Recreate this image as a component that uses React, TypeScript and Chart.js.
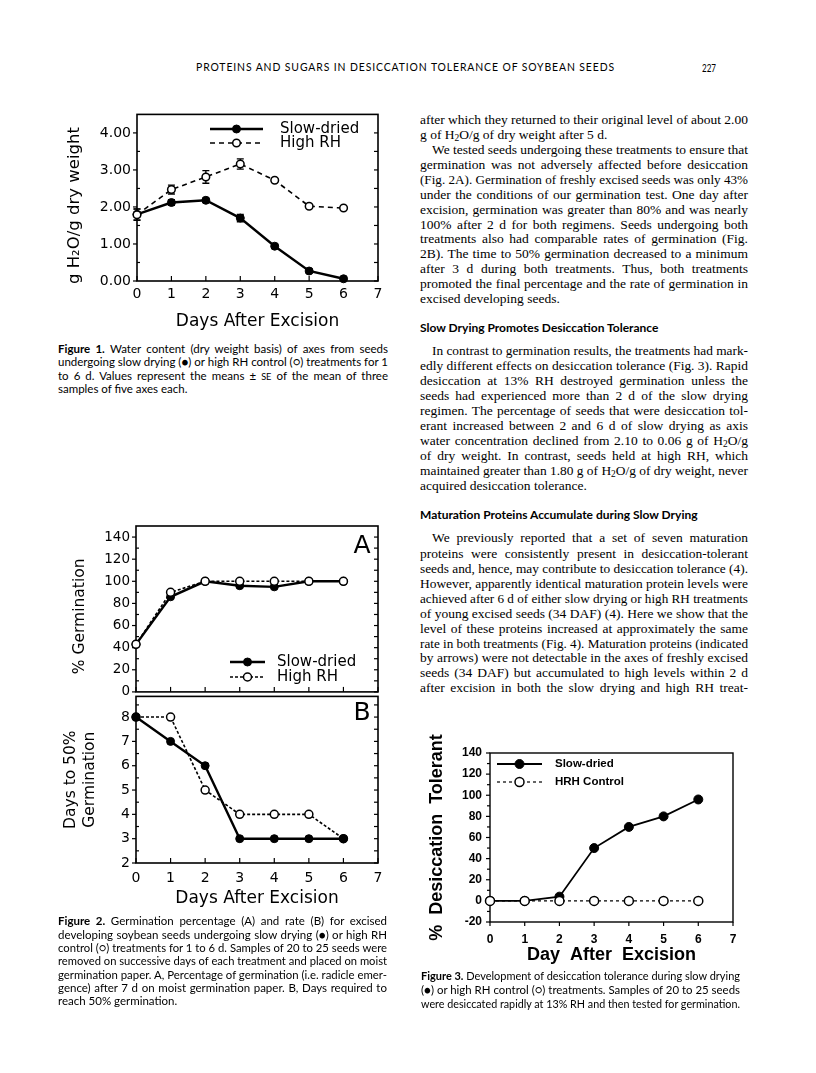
import React, { useEffect, useLayoutEffect, useRef } from "react";
import { Chart, registerables } from "chart.js";
Chart.register(...registerables);

// ---------------- DATA ----------------
const DAYS = [0, 1, 2, 3, 4, 5, 6];
const DAY_TICKS = [0, 1, 2, 3, 4, 5, 6, 7];

// Figure 1: water content (g H2O / g dry weight)
const FIG1_SLOW = [1.8, 2.12, 2.18, 1.7, 0.94, 0.27, 0.06];
const FIG1_SLOW_SE = [0.15, 0.08, 0.05, 0.1, 0.05, 0.04, 0.02];
const FIG1_HIGH = [1.79, 2.47, 2.81, 3.16, 2.72, 2.02, 1.97];
const FIG1_HIGH_SE = [0.15, 0.12, 0.17, 0.14, 0.04, 0.04, 0.03];
const FIG1_Y_TICKS = [0, 1, 2, 3, 4];
const FIG1_Y_MINOR = [0.5, 1.5, 2.5, 3.5];

// Figure 2A: % germination
const FIG2A_SLOW = [43, 86, 100, 96, 95, 100, 100];
const FIG2A_HIGH = [43, 90, 100, 100, 100, 100, 100];
const FIG2A_Y_TICKS = [0, 20, 40, 60, 80, 100, 120, 140];
const FIG2A_Y_MINOR = [10, 30, 50, 70, 90, 110, 130];

// Figure 2B: days to 50% germination
const FIG2B_SLOW = [8, 7, 6, 3, 3, 3, 3];
const FIG2B_HIGH = [8, 8, 5, 4, 4, 4, 3];
const FIG2B_Y_TICKS = [2, 3, 4, 5, 6, 7, 8];
const FIG2B_Y_MINOR = [2.5, 3.5, 4.5, 5.5, 6.5, 7.5, 8.5];

// Figure 3: % desiccation tolerant
const FIG3_SLOW = [0, 0, 4, 50, 70, 80, 96];
const FIG3_HRH = [0, 0, 0, 0, 0, 0, 0];
const FIG3_Y_TICKS = [-20, 0, 20, 40, 60, 80, 100, 120, 140];
const FIG3_Y_MINOR = [-10, 10, 30, 50, 70, 90, 110, 130];

// ---------------- STYLE ----------------
const GENEVA = '"DejaVu Sans", Verdana, sans-serif';
const HELV = '"Liberation Sans", Arial, sans-serif';
const SERIF = '"Liberation Serif", "Times New Roman", serif';
const OPTIMA = 'Lato, "Open Sans", sans-serif';

const pts = (vals: number[]) => DAYS.map((d, i) => ({ x: d, y: vals[i] }));

// ---------------- PLUGINS ----------------
type TickSet = { values: number[]; len: number; dir: "in" | "out" };
type FrameCfg = { lineWidth: number; tickWidth: number; left?: TickSet[]; right?: TickSet[]; bottom?: TickSet[]; top?: TickSet[] };

function framePlugin(cfg: FrameCfg) {
  return {
    id: "frame",
    beforeDatasetsDraw(chart: any) {
      const { ctx, chartArea: a, scales } = chart;
      const xs = scales.x, ys = scales.y;
      ctx.save();
      ctx.strokeStyle = "#000";
      ctx.lineWidth = cfg.lineWidth;
      ctx.strokeRect(a.left, a.top, a.right - a.left, a.bottom - a.top);
      ctx.lineWidth = cfg.tickWidth;
      const seg = (x1: number, y1: number, x2: number, y2: number) => {
        ctx.beginPath(); ctx.moveTo(x1, y1); ctx.lineTo(x2, y2); ctx.stroke();
      };
      (cfg.left || []).forEach(t => t.values.forEach(v => {
        const y = ys.getPixelForValue(v);
        seg(a.left, y, a.left + (t.dir === "in" ? t.len : -t.len), y);
      }));
      (cfg.right || []).forEach(t => t.values.forEach(v => {
        const y = ys.getPixelForValue(v);
        seg(a.right, y, a.right + (t.dir === "in" ? -t.len : t.len), y);
      }));
      (cfg.bottom || []).forEach(t => t.values.forEach(v => {
        const x = xs.getPixelForValue(v);
        seg(x, a.bottom, x, a.bottom + (t.dir === "in" ? -t.len : t.len));
      }));
      (cfg.top || []).forEach(t => t.values.forEach(v => {
        const x = xs.getPixelForValue(v);
        seg(x, a.top, x, a.top + (t.dir === "in" ? t.len : -t.len));
      }));
      ctx.restore();
    },
  };
}

function errorBarPlugin(errors: (number[] | null)[], cap: number) {
  return {
    id: "errorBars",
    beforeDatasetsDraw(chart: any) {
      const { ctx } = chart;
      const ys = chart.scales.y;
      ctx.save();
      ctx.strokeStyle = "#000";
      ctx.lineWidth = 1.3;
      errors.forEach((errs, di) => {
        if (!errs) return;
        const meta = chart.getDatasetMeta(di);
        const data = chart.data.datasets[di].data;
        meta.data.forEach((el: any, i: number) => {
          const e = errs[i];
          if (!e) return;
          const v = data[i].y;
          const y1 = ys.getPixelForValue(v + e);
          const y2 = ys.getPixelForValue(v - e);
          ctx.beginPath();
          ctx.moveTo(el.x, y1); ctx.lineTo(el.x, y2);
          ctx.moveTo(el.x - cap, y1); ctx.lineTo(el.x + cap, y1);
          ctx.moveTo(el.x - cap, y2); ctx.lineTo(el.x + cap, y2);
          ctx.stroke();
        });
      });
      ctx.restore();
    },
  };
}

type LegendCfg = { x: number; y: number; lineLen: number; gap: number; rowH: number; font: string };
function legendPlugin(cfg: LegendCfg) {
  return {
    id: "inlineLegend",
    afterDraw(chart: any) {
      const { ctx } = chart;
      chart.data.datasets.forEach((ds: any, row: number) => {
        const y = cfg.y + row * cfg.rowH;
        ctx.save();
        ctx.strokeStyle = ds.borderColor;
        ctx.lineWidth = ds.borderWidth;
        ctx.setLineDash(ds.borderDash || []);
        ctx.beginPath(); ctx.moveTo(cfg.x, y); ctx.lineTo(cfg.x + cfg.lineLen, y); ctx.stroke();
        ctx.setLineDash([]);
        ctx.beginPath();
        ctx.arc(cfg.x + cfg.lineLen / 2, y, ds.pointRadius, 0, Math.PI * 2);
        ctx.fillStyle = ds.pointBackgroundColor;
        ctx.fill();
        ctx.lineWidth = ds.pointBorderWidth;
        ctx.strokeStyle = ds.pointBorderColor;
        ctx.stroke();
        ctx.fillStyle = "#000";
        ctx.font = cfg.font;
        ctx.textBaseline = "middle";
        ctx.textAlign = "left";
        ctx.fillText(ds.label, cfg.x + cfg.lineLen + cfg.gap, y);
        ctx.restore();
      });
    },
  };
}

function panelLabelPlugin(text: string, x: number, y: number, font: string) {
  return {
    id: "panelLabel",
    afterDraw(chart: any) {
      const { ctx } = chart;
      ctx.save();
      ctx.fillStyle = "#000";
      ctx.font = font;
      ctx.textAlign = "center";
      ctx.textBaseline = "middle";
      ctx.fillText(text, x, y);
      ctx.restore();
    },
  };
}

// ---------------- AXIS HELPERS ----------------
function xAxis(opts: { show: boolean; height: number; font: any; pad: number; title?: string; titleFont?: any; titlePadBottom?: number }) {
  return {
    type: "linear",
    min: 0,
    max: 7,
    display: opts.show,
    afterBuildTicks: (s: any) => { s.ticks = DAY_TICKS.map(v => ({ value: v })); },
    afterFit: (s: any) => { s.height = opts.height; },
    grid: { display: false, drawTicks: false },
    border: { display: false },
    ticks: { font: opts.font, color: "#000", padding: opts.pad, maxRotation: 0, autoSkip: false },
    title: {
      display: !!opts.title,
      text: opts.title,
      font: opts.titleFont,
      color: "#000",
      padding: { top: 0, bottom: opts.titlePadBottom ?? 0 },
    },
  };
}

function yAxis(opts: { min: number; max: number; ticks: number[]; width: number; font: any; pad: number; fmt?: (v: number) => string; title: string | string[]; titleFont: any; titlePad: number }) {
  return {
    type: "linear",
    min: opts.min,
    max: opts.max,
    afterBuildTicks: (s: any) => { s.ticks = opts.ticks.map(v => ({ value: v })); },
    afterFit: (s: any) => { s.width = opts.width; },
    grid: { display: false, drawTicks: false },
    border: { display: false },
    ticks: {
      font: opts.font,
      color: "#000",
      padding: opts.pad,
      autoSkip: false,
      callback: (v: any) => (opts.fmt ? opts.fmt(Number(v)) : String(v)),
    },
    title: { display: true, text: opts.title, font: opts.titleFont, color: "#000", padding: { top: opts.titlePad, bottom: 0 } },
  };
}

const slowStyle = (r: number, w: number) => ({
  borderColor: "#000", borderWidth: w, pointRadius: r, pointBackgroundColor: "#000",
  pointBorderColor: "#000", pointBorderWidth: 1, clip: false, tension: 0, fill: false,
});
const openStyle = (r: number, w: number, dash: number[]) => ({
  borderColor: "#000", borderWidth: w, borderDash: dash, pointRadius: r, pointBackgroundColor: "#fff",
  pointBorderColor: "#000", pointBorderWidth: 1.5, clip: false, tension: 0, fill: false,
});

const baseOptions = {
  responsive: false,
  animation: false,
  events: [],
};

// ---------------- CHART CONFIGS ----------------
function fig1Config() {
  return {
    type: "line",
    data: {
      datasets: [
        { label: "Slow-dried", data: pts(FIG1_SLOW), order: 1, ...slowStyle(4, 2.4) },
        { label: "High RH", data: pts(FIG1_HIGH), order: 0, ...openStyle(3.8, 1.6, [5, 4]) },
      ],
    },
    options: {
      ...baseOptions,
      layout: { padding: { top: 12, right: 12, left: 0, bottom: 0 } },
      scales: {
        x: xAxis({ show: true, height: 59, font: { family: GENEVA, size: 14 }, pad: 5, title: "Days After Excision", titleFont: { family: GENEVA, size: 17 }, titlePadBottom: 8 }),
        y: yAxis({ min: 0, max: 4.5, ticks: FIG1_Y_TICKS, width: 97, font: { family: GENEVA, size: 14 }, pad: 6, fmt: v => v.toFixed(2), title: "g H\u2082O/g dry weight   ", titleFont: { family: GENEVA, size: 16.5 }, titlePad: 25 }),
      },
      plugins: { legend: { display: false }, tooltip: { enabled: false } },
    },
    plugins: [
      framePlugin({
        lineWidth: 1.6, tickWidth: 1.2,
        left: [{ values: FIG1_Y_TICKS, len: 4, dir: "out" }, { values: FIG1_Y_MINOR, len: 3, dir: "in" }],
        right: [{ values: FIG1_Y_TICKS, len: 4, dir: "in" }, { values: FIG1_Y_MINOR, len: 4, dir: "in" }],
        bottom: [{ values: DAY_TICKS, len: 5, dir: "in" }],
      }),
      errorBarPlugin([FIG1_SLOW_SE, FIG1_HIGH_SE], 3.5),
      legendPlugin({ x: 170, y: 29, lineLen: 53, gap: 17, rowH: 14, font: `15px ${GENEVA}` }),
    ],
  };
}

function fig2aConfig() {
  return {
    type: "line",
    data: {
      datasets: [
        { label: "Slow-dried", data: pts(FIG2A_SLOW), order: 1, ...slowStyle(4, 2.4) },
        { label: "High RH", data: pts(FIG2A_HIGH), order: 0, ...openStyle(4, 1.6, [3, 2]) },
      ],
    },
    options: {
      ...baseOptions,
      layout: { padding: { top: 16, right: 12, left: 0, bottom: 12 } },
      scales: {
        x: xAxis({ show: false, height: 0, font: { family: GENEVA, size: 14 }, pad: 5 }),
        y: yAxis({ min: 0, max: 150, ticks: FIG2A_Y_TICKS, width: 96, font: { family: GENEVA, size: 13.5 }, pad: 6, title: "% Germination   ", titleFont: { family: GENEVA, size: 15.5 }, titlePad: 31 }),
      },
      plugins: { legend: { display: false }, tooltip: { enabled: false } },
    },
    plugins: [
      framePlugin({
        lineWidth: 1.6, tickWidth: 1.2,
        left: [{ values: FIG2A_Y_TICKS, len: 4, dir: "out" }, { values: FIG2A_Y_MINOR, len: 3, dir: "in" }],
        right: [{ values: FIG2A_Y_TICKS, len: 4, dir: "in" }, { values: FIG2A_Y_MINOR, len: 4, dir: "in" }],
        bottom: [{ values: DAY_TICKS, len: 5, dir: "in" }],
      }),
      legendPlugin({ x: 190, y: 152, lineLen: 35, gap: 12, rowH: 15, font: `15px ${GENEVA}` }),
      panelLabelPlugin("A", 322, 36, `25px ${GENEVA}`),
    ],
  };
}

function fig2bConfig() {
  return {
    type: "line",
    data: {
      datasets: [
        { label: "Slow-dried", data: pts(FIG2B_SLOW), order: 0, ...slowStyle(4, 2.4) },
        { label: "High RH", data: pts(FIG2B_HIGH), order: 1, ...openStyle(4, 1.6, [3, 2]) },
      ],
    },
    options: {
      ...baseOptions,
      layout: { padding: { top: 12, right: 12, left: 0, bottom: 0 } },
      scales: {
        x: xAxis({ show: true, height: 49, font: { family: GENEVA, size: 14 }, pad: 7, title: "Days After Excision", titleFont: { family: GENEVA, size: 17 }, titlePadBottom: 3 }),
        y: yAxis({ min: 2, max: 8.85, ticks: FIG2B_Y_TICKS, width: 96, font: { family: GENEVA, size: 14 }, pad: 6, title: ["Days to 50%", "Germination"], titleFont: { family: GENEVA, size: 15.5 }, titlePad: 22 }),
      },
      plugins: { legend: { display: false }, tooltip: { enabled: false } },
    },
    plugins: [
      framePlugin({
        lineWidth: 1.6, tickWidth: 1.2,
        left: [{ values: FIG2B_Y_TICKS, len: 4, dir: "out" }, { values: FIG2B_Y_MINOR, len: 3, dir: "in" }],
        right: [{ values: FIG2B_Y_TICKS, len: 4, dir: "in" }, { values: FIG2B_Y_MINOR, len: 4, dir: "in" }],
        bottom: [{ values: DAY_TICKS, len: 5, dir: "in" }],
      }),
      panelLabelPlugin("B", 322, 31, `25px ${GENEVA}`),
    ],
  };
}

function fig3Config() {
  return {
    type: "line",
    data: {
      datasets: [
        { label: "Slow-dried", data: pts(FIG3_SLOW), order: 1, ...slowStyle(4.5, 1.8) },
        { label: "HRH Control", data: pts(FIG3_HRH), order: 0, ...openStyle(4.5, 1.2, [3, 3]) },
      ],
    },
    options: {
      ...baseOptions,
      layout: { padding: { top: 28, right: 17, left: 0, bottom: 0 } },
      scales: {
        x: xAxis({ show: true, height: 48, font: { family: HELV, size: 12, weight: "bold" }, pad: 10, title: "Day  After  Excision", titleFont: { family: HELV, size: 18, weight: "bold" }, titlePadBottom: 4 }),
        y: yAxis({ min: -20, max: 140, ticks: FIG3_Y_TICKS, width: 70, font: { family: HELV, size: 12, weight: "bold" }, pad: 8, title: "%  Desiccation  Tolerant", titleFont: { family: HELV, size: 18, weight: "bold" }, titlePad: 6 }),
      },
      plugins: { legend: { display: false }, tooltip: { enabled: false } },
    },
    plugins: [
      framePlugin({
        lineWidth: 1.4, tickWidth: 1.2,
        left: [{ values: FIG3_Y_TICKS, len: 4, dir: "out" }, { values: FIG3_Y_MINOR, len: 3, dir: "out" }],
        bottom: [{ values: DAY_TICKS, len: 4, dir: "out" }],
      }),
      legendPlugin({ x: 77, y: 39, lineLen: 45, gap: 13, rowH: 18, font: `bold 11.5px ${HELV}` }),
    ],
  };
}

// ---------------- COMPONENTS ----------------
function ChartCanvas({ left, top, width, height, make }: { left: number; top: number; width: number; height: number; make: () => any }) {
  const ref = useRef<HTMLCanvasElement>(null);
  useEffect(() => {
    const chart = new Chart(ref.current as HTMLCanvasElement, make());
    return () => chart.destroy();
  }, []);
  return (
    <canvas ref={ref} width={width} height={height} style={{ position: "absolute", left, top, width, height }} />
  );
}

function Line({ x, y, w, justify = true, style, children }: { x: number; y: number; w: number; justify?: boolean; style: React.CSSProperties; children: React.ReactNode }) {
  const ref = useRef<HTMLSpanElement>(null);
  useLayoutEffect(() => {
    const el = ref.current;
    if (!el) return;
    const adjust = () => {
      el.style.wordSpacing = "0px";
      el.style.transform = "none";
      const nat = el.getBoundingClientRect().width;
      const spaces = ((el.textContent || "").match(/ /g) || []).length;
      if (nat > w) {
        el.style.transform = `scaleX(${w / nat})`;
      } else if (justify && spaces > 0) {
        el.style.wordSpacing = `${(w - nat) / spaces}px`;
      }
    };
    adjust();
    const fonts = (document as any).fonts;
    if (fonts && fonts.ready) fonts.ready.then(adjust);
  }, [w, justify]);
  const lh = 15;
  return (
    <div style={{ position: "absolute", left: x, top: y - lh / 2, height: lh, lineHeight: `${lh}px`, whiteSpace: "nowrap", color: "#000", ...style }}>
      <span ref={ref} style={{ display: "inline-block", transformOrigin: "0 50%" }}>{children}</span>
    </div>
  );
}

const bodyStyle: React.CSSProperties = { fontFamily: SERIF, fontSize: 13.5 };
const headStyle: React.CSSProperties = { fontFamily: OPTIMA, fontSize: 12, fontWeight: 700 };
const capStyle: React.CSSProperties = { fontFamily: OPTIMA, fontSize: 11.5 };

const H2O = <>H<sub style={{ fontSize: "0.7em", verticalAlign: "-0.25em" }}>2</sub>O</>;
const SE = <span style={{ fontSize: "0.8em" }}>SE</span>;

type BodyLine = [number, React.ReactNode, boolean?, number?];
const RX = 420, RW = 328, IND = 12;
const rightLines: BodyLine[] = [
  [119, "after which they returned to their original level of about 2.00"],
  [134, <>g of {H2O}/g of dry weight after 5 d.</>, false],
  [149, "We tested seeds undergoing these treatments to ensure that", true, IND],
  [164, "germination was not adversely affected before desiccation"],
  [179, "(Fig. 2A). Germination of freshly excised seeds was only 43%"],
  [194, "under the conditions of our germination test. One day after"],
  [209, "excision, germination was greater than 80% and was nearly"],
  [224, "100% after 2 d for both regimens. Seeds undergoing both"],
  [238.5, "treatments also had comparable rates of germination (Fig."],
  [253.5, "2B). The time to 50% germination decreased to a minimum"],
  [268.5, "after 3 d during both treatments. Thus, both treatments"],
  [283.5, "promoted the final percentage and the rate of germination in"],
  [298.5, "excised developing seeds.", false],
  [350, "In contrast to germination results, the treatments had mark-", true, IND],
  [365, "edly different effects on desiccation tolerance (Fig. 3). Rapid"],
  [380, "desiccation at 13% RH destroyed germination unless the"],
  [395.5, "seeds had experienced more than 2 d of the slow drying"],
  [410.5, "regimen. The percentage of seeds that were desiccation tol-"],
  [425.5, "erant increased between 2 and 6 d of slow drying as axis"],
  [440.5, <>water concentration declined from 2.10 to 0.06 g of {H2O}/g</>],
  [455.5, "of dry weight. In contrast, seeds held at high RH, which"],
  [470.5, <>maintained greater than 1.80 g of {H2O}/g of dry weight, never</>],
  [485.5, "acquired desiccation tolerance.", false],
  [537.5, "We previously reported that a set of seven maturation", true, IND],
  [553, "proteins were consistently present in desiccation-tolerant"],
  [568, "seeds and, hence, may contribute to desiccation tolerance (4)."],
  [583, "However, apparently identical maturation protein levels were"],
  [598, "achieved after 6 d of either slow drying or high RH treatments"],
  [613, "of young excised seeds (34 DAF) (4). Here we show that the"],
  [628, "level of these proteins increased at approximately the same"],
  [643, "rate in both treatments (Fig. 4). Maturation proteins (indicated"],
  [657.5, "by arrows) were not detectable in the axes of freshly excised"],
  [672.5, "seeds (34 DAF) but accumulated to high levels within 2 d"],
  [687.5, "after excision in both the slow drying and high RH treat-"],
];

type CapLine = [number, React.ReactNode, boolean?];
const fig1Caption: CapLine[] = [
  [348, <><b>Figure 1.</b> Water content (dry weight basis) of axes from seeds</>],
  [361.5, <>undergoing slow drying ({"\u25CF"}) or high RH control ({"\u25CB"}) treatments for 1</>],
  [375, <>to 6 d. Values represent the means ± {SE} of the mean of three</>],
  [388.5, "samples of five axes each.", false],
];
const fig2Caption: CapLine[] = [
  [920.5, <><b>Figure 2.</b> Germination percentage (A) and rate (B) for excised</>],
  [934, <>developing soybean seeds undergoing slow drying ({"\u25CF"}) or high RH</>],
  [947.3, <>control ({"\u25CB"}) treatments for 1 to 6 d. Samples of 20 to 25 seeds were</>],
  [960.6, "removed on successive days of each treatment and placed on moist"],
  [974, "germination paper. A, Percentage of germination (i.e. radicle emer-"],
  [987.3, "gence) after 7 d on moist germination paper. B, Days required to"],
  [1000.6, "reach 50% germination.", false],
];
const fig3Caption: CapLine[] = [
  [975, <><b>Figure 3.</b>  Development of desiccation tolerance during slow drying</>],
  [989, <>({"\u25CF"}) or high RH control ({"\u25CB"}) treatments. Samples of 20 to 25 seeds</>],
  [1003, "were desiccated rapidly at 13% RH and then tested for germination."],
];

export default function App() {
  return (
    <div style={{ position: "absolute", left: 0, top: 0, width: 816, height: 1073, background: "#fff", overflow: "hidden" }}>
      {/* Running head */}
      <Line x={196} y={67} w={419} style={{ fontFamily: OPTIMA, fontSize: 10.5, letterSpacing: 0.9 }}>
        PROTEINS AND SUGARS IN DESICCATION TOLERANCE OF SOYBEAN SEEDS
      </Line>
      <Line x={702} y={67} w={14} justify={false} style={{ fontFamily: OPTIMA, fontSize: 11 }}>227</Line>

      {/* Charts */}
      <ChartCanvas left={40} top={100} width={350} height={240} make={fig1Config} />
      <ChartCanvas left={40} top={510} width={350} height={196} make={fig2aConfig} />
      <ChartCanvas left={40} top={682} width={350} height={230} make={fig2bConfig} />
      <ChartCanvas left={420} top={725} width={330} height={245} make={fig3Config} />

      {/* Captions */}
      {fig1Caption.map(([y, t, j], i) => (
        <Line key={"c1" + i} x={58} y={y} w={330} justify={j !== false} style={capStyle}>{t}</Line>
      ))}
      {fig2Caption.map(([y, t, j], i) => (
        <Line key={"c2" + i} x={58} y={y} w={329} justify={j !== false} style={capStyle}>{t}</Line>
      ))}
      {fig3Caption.map(([y, t, j], i) => (
        <Line key={"c3" + i} x={421} y={y} w={319} justify={j !== false} style={capStyle}>{t}</Line>
      ))}

      {/* Right column body */}
      {rightLines.map(([y, t, j, ind], i) => (
        <Line key={"b" + i} x={RX + (ind || 0)} y={y} w={RW - (ind || 0)} justify={j !== false} style={bodyStyle}>{t}</Line>
      ))}
      <Line x={420} y={327} w={252} justify={false} style={headStyle}>Slow Drying Promotes Desiccation Tolerance</Line>
      <Line x={420} y={514} w={293} justify={false} style={headStyle}>Maturation Proteins Accumulate during Slow Drying</Line>
    </div>
  );
}
